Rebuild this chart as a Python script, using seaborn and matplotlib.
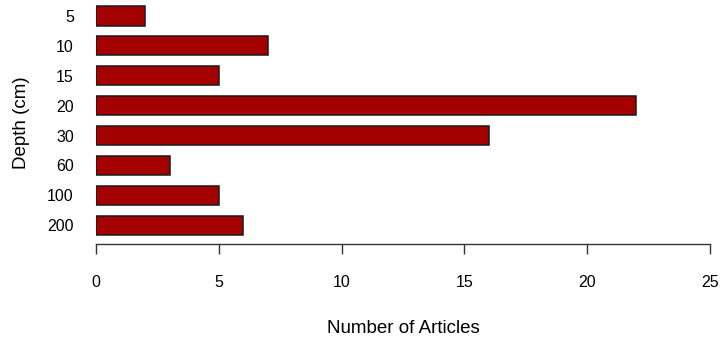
import matplotlib
matplotlib.use("Agg")
import matplotlib.pyplot as plt
import seaborn as sns
import pandas as pd

# Data
depths = ["5", "10", "15", "20", "30", "60", "100", "200"]
articles = [2, 7, 5, 22, 16, 3, 5, 6]
x_ticks = [0, 5, 10, 15, 20, 25]

sns.set_style("white")
plt.rcParams['font.family'] = ['Liberation Sans', 'DejaVu Sans']
plt.rcParams['text.color'] = 'black'
plt.rcParams['axes.labelcolor'] = 'black'
plt.rcParams['xtick.color'] = 'black'
plt.rcParams['ytick.color'] = 'black'

df = pd.DataFrame({'Depth': depths, 'Articles': articles})

fig = plt.figure(figsize=(7.26, 3.38), dpi=100)
ax = fig.add_axes([96 / 726, 94 / 338, 614 / 726, 243 / 338])

sns.barplot(data=df, x='Articles', y='Depth', order=depths, orient='h',
            color='#a50000', saturation=1, width=0.64,
            edgecolor='#1a1a1a', linewidth=1.1, ax=ax)

ax.set_xlim(0, 25)
ax.set_ylim(7.625, -0.5)
ax.set_xticks(x_ticks)
ax.set_xticklabels([str(t) for t in x_ticks])

for s in ['top', 'right', 'left']:
    ax.spines[s].set_visible(False)
ax.spines['bottom'].set_color('#333333')
ax.spines['bottom'].set_linewidth(1.0)
ax.spines['bottom'].set_bounds(0, 25)

ax.tick_params(axis='x', length=7, width=1.0, color='#333333', pad=15,
               labelsize=11.5, direction='out', bottom=True)
ax.tick_params(axis='y', length=0, pad=16, labelsize=11.5)

ax.set_xlabel('Number of Articles', fontsize=13.5, labelpad=22)
ax.set_ylabel('Depth (cm)', fontsize=13.5, labelpad=12)

fig.savefig('out.png', dpi=100)
